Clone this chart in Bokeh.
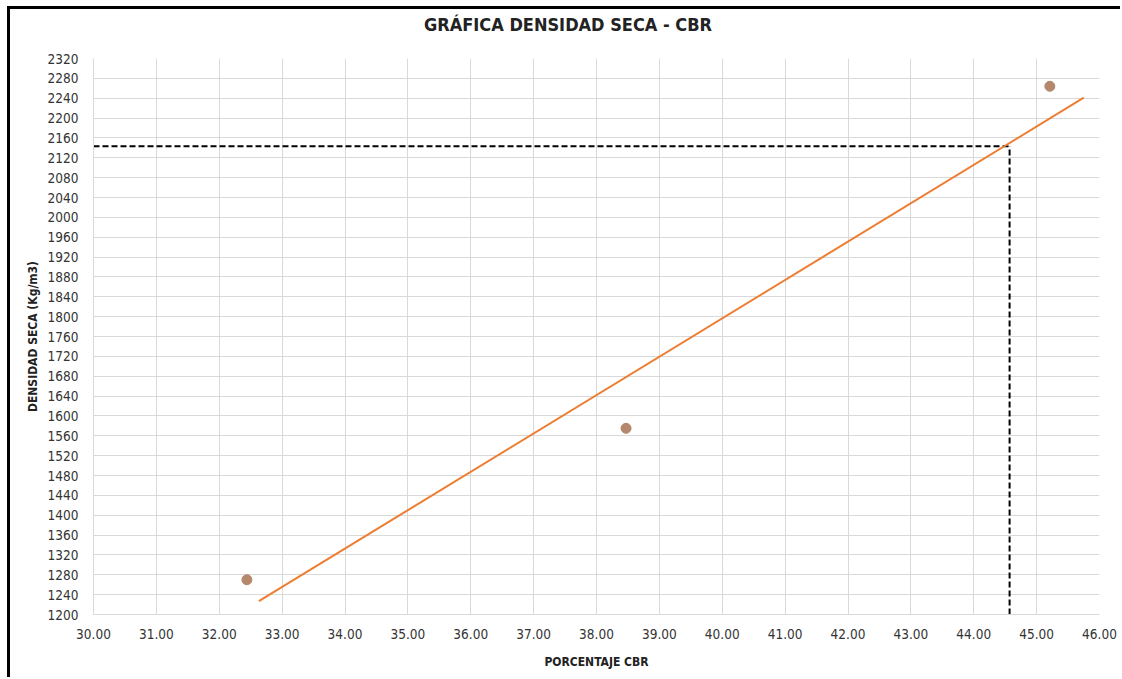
from bokeh.plotting import figure
from bokeh.layouts import column
from bokeh.models import FixedTicker, NumeralTickFormatter, Range1d, ColumnDataSource, Div
from bokeh.embed import file_html
from bokeh.resources import INLINE

# ---- data ----
cbr_points = [32.44, 38.47, 45.21]
density_points = [1270, 1575, 2264]

trend_x = [32.63, 45.75]
trend_y = [1227, 2241]

design_cbr = 44.57
design_density = 2143

x_ticks = [30, 31, 32, 33, 34, 35, 36, 37, 38, 39, 40, 41, 42, 43, 44, 45, 46]
y_ticks = [1200, 1240, 1280, 1320, 1360, 1400, 1440, 1480, 1520, 1560, 1600,
           1640, 1680, 1720, 1760, 1800, 1840, 1880, 1920, 1960, 2000, 2040,
           2080, 2120, 2160, 2200, 2240, 2280, 2320]

title_text = "GRÁFICA DENSIDAD SECA - CBR"
x_label = "PORCENTAJE CBR"
y_label = "DENSIDAD SECA (Kg/m3)"

FONT = "DejaVu Sans Condensed"
GRID = "#d9d9d9"

title_div = Div(text=title_text, width=1110, height=32, margin=0,
                styles={"text-align": "center", "font-family": FONT,
                        "font-weight": "bold", "font-size": "18px",
                        "line-height": "32px", "color": "#222222",
                        "padding-left": "6px"})

p = figure(width=1110, height=636, output_backend="svg", toolbar_location=None,
           x_range=Range1d(x_ticks[0], x_ticks[-1]),
           y_range=Range1d(y_ticks[0], y_ticks[-1]),
           min_border_left=83, min_border_right=21, min_border_top=17,
           min_border_bottom=63)

p.outline_line_color = None
p.background_fill_color = "white"
p.border_fill_color = "white"

for ax in (p.xaxis[0], p.yaxis[0]):
    ax.major_tick_in = 0
    ax.major_tick_out = 0
    ax.minor_tick_in = 0
    ax.minor_tick_out = 0
    ax.axis_line_color = GRID
    ax.major_label_text_font = FONT
    ax.major_label_text_font_size = "13.5px"
    ax.major_label_text_color = "#333333"
    ax.axis_label_text_font = FONT
    ax.axis_label_text_font_style = "bold"
    ax.axis_label_text_font_size = "12px"
    ax.axis_label_text_color = "#222222"

p.xaxis.ticker = FixedTicker(ticks=x_ticks)
p.yaxis.ticker = FixedTicker(ticks=y_ticks)
p.xaxis.formatter = NumeralTickFormatter(format="0.00")
p.yaxis.formatter = NumeralTickFormatter(format="0")
p.xaxis.major_label_standoff = 14
p.yaxis.major_label_standoff = 15
p.xaxis.axis_label = x_label
p.yaxis.axis_label = y_label
p.xaxis.axis_label_standoff = 13
p.yaxis.axis_label_standoff = 5

p.xgrid.ticker = FixedTicker(ticks=x_ticks)
p.ygrid.ticker = FixedTicker(ticks=y_ticks)
p.xgrid.grid_line_color = GRID
p.ygrid.grid_line_color = GRID

# dashed design lines
p.line([x_ticks[0], design_cbr], [design_density, design_density],
       line_color="black", line_width=2, line_dash="6 3")
p.line([design_cbr, design_cbr], [y_ticks[0], design_density],
       line_color="black", line_width=2, line_dash="6 3")

# trend line
p.line(trend_x, trend_y, line_color="#ed7d31", line_width=2)

# data points
src = ColumnDataSource(dict(x=cbr_points, y=density_points))
p.scatter("x", "y", source=src, size=10, fill_color="#b5876c",
          line_color="#b5876c")

layout = column(title_div, p, spacing=0,
                styles={"border-left": "3px solid black",
                        "border-top": "3px solid black",
                        "margin-left": "7px", "margin-top": "6px",
                        "background-color": "white"})

open("out.html", "w").write(file_html(layout, INLINE))
